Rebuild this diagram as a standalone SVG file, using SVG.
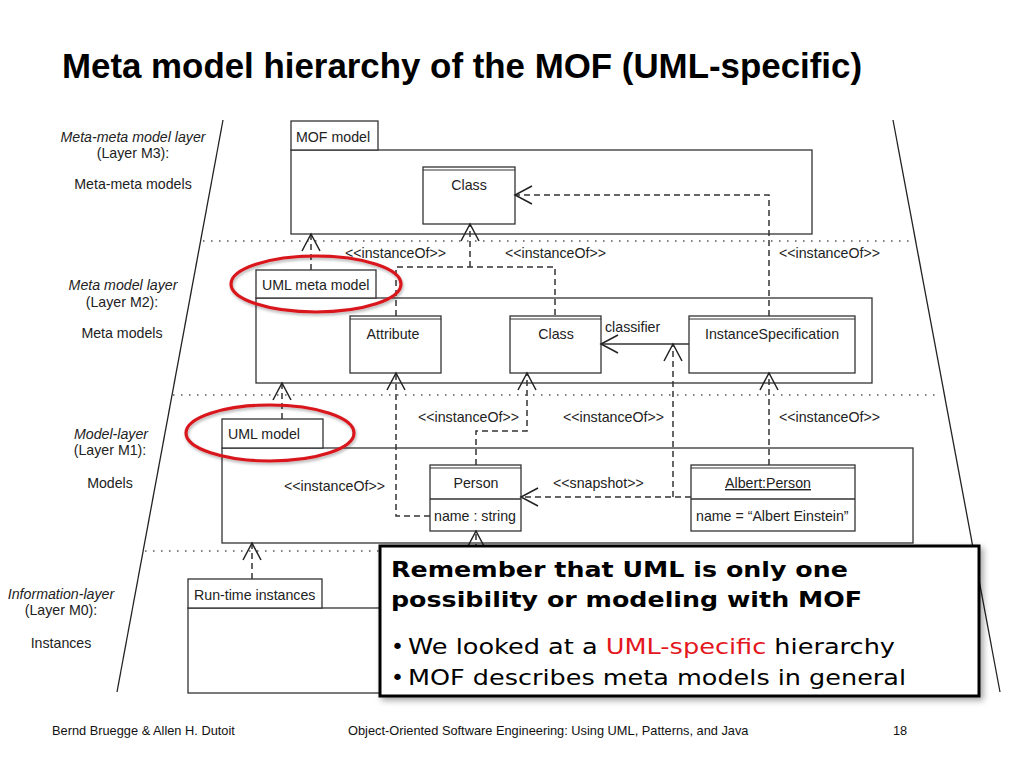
<svg xmlns="http://www.w3.org/2000/svg" width="1024" height="768" viewBox="0 0 1024 768">
<style>
.lbl{font-family:"Liberation Sans",Arial,sans-serif;font-size:14.2px;fill:#222}
.it{font-style:italic}
.mid{text-anchor:middle}
.box{fill:#fff;stroke:#333;stroke-width:1.3}
.thin{fill:none;stroke:#333;stroke-width:1}
.dash{fill:none;stroke:#333;stroke-width:1.5;stroke-dasharray:6 4}
.solid{fill:none;stroke:#333;stroke-width:1.3}
.dot{fill:none;stroke:#555;stroke-width:1.5;stroke-dasharray:1.5 6.5}
.edge{fill:none;stroke:#222;stroke-width:1.3}
.ring{fill:none;stroke:#d8161d;stroke-width:3.2}
.call{font-family:"DejaVu Sans",Tahoma,Verdana,sans-serif;font-size:22px;fill:#000}
.foot{font-family:"Liberation Sans",Arial,sans-serif;font-size:12.8px;fill:#111}
</style>
<defs>
<marker id="open" markerUnits="userSpaceOnUse" markerWidth="24" markerHeight="24" viewBox="-20 -12 24 24" refX="0" refY="0" orient="auto">
<path d="M -17 -9 L 0 0 L -17 9" fill="none" stroke="#222" stroke-width="1.5"/>
</marker>
<filter id="sh" x="-5%" y="-10%" width="115%" height="130%">
<feDropShadow dx="3" dy="3" stdDeviation="3" flood-color="#000" flood-opacity="0.35"/>
</filter>
<filter id="rsh" x="-10%" y="-20%" width="130%" height="150%">
<feDropShadow dx="1" dy="2" stdDeviation="1.5" flood-color="#000" flood-opacity="0.3"/>
</filter>
</defs>
<rect width="1024" height="768" fill="#fff"/>

<text x="62" y="78" font-family="Liberation Sans,Arial,sans-serif" font-weight="bold" font-size="35" textLength="800" lengthAdjust="spacingAndGlyphs" fill="#000">Meta model hierarchy of the MOF (UML-specific)</text>

<g id="frame">
<line class="edge" x1="223" y1="120" x2="117" y2="692"/>
<line class="edge" x1="893" y1="120" x2="1000" y2="692"/>
<line class="dot" x1="203" y1="241" x2="910" y2="241"/>
<line class="dot" x1="173" y1="395" x2="940" y2="395"/>
<line class="dot" x1="145" y1="551" x2="380" y2="551"/>
</g>

<g id="layer-labels">
<text class="lbl it mid" x="133" y="142">Meta-meta model layer</text>
<text class="lbl mid" x="133" y="158">(Layer M3):</text>
<text class="lbl mid" x="133" y="189">Meta-meta models</text>
<text class="lbl it mid" x="123" y="290">Meta model layer</text>
<text class="lbl mid" x="122" y="307">(Layer M2):</text>
<text class="lbl mid" x="122" y="338">Meta models</text>
<text class="lbl it mid" x="111" y="439">Model-layer</text>
<text class="lbl mid" x="110" y="455">(Layer M1):</text>
<text class="lbl mid" x="110" y="488">Models</text>
<text class="lbl it mid" x="61" y="599">Information-layer</text>
<text class="lbl mid" x="61" y="615">(Layer M0):</text>
<text class="lbl mid" x="61" y="648">Instances</text>
</g>

<g id="mof-model">
<rect class="box" x="291" y="150" width="521" height="84"/>
<rect class="box" x="291" y="121" width="87" height="29"/>
<text class="lbl" x="296" y="142">MOF model</text>
</g>
<g id="mof-class">
<rect class="box" x="423" y="167" width="92" height="57"/>
<line class="thin" x1="423" y1="170" x2="515" y2="170"/>
<text class="lbl mid" x="469" y="190">Class</text>
</g>

<g id="uml-meta-model">
<rect class="box" x="256" y="298" width="616" height="85"/>
<rect class="box" x="256" y="270" width="120" height="28"/>
<text class="lbl" x="262" y="290">UML meta model</text>
</g>
<g id="attribute">
<rect class="box" x="350" y="316" width="91" height="57"/>
<line class="thin" x1="350" y1="319" x2="441" y2="319"/>
<text class="lbl mid" x="393" y="339">Attribute</text>
</g>
<g id="m2-class">
<rect class="box" x="510" y="316" width="91" height="57"/>
<line class="thin" x1="510" y1="319" x2="601" y2="319"/>
<text class="lbl mid" x="556" y="339">Class</text>
</g>
<g id="instance-specification">
<rect class="box" x="689" y="316" width="166" height="57"/>
<line class="thin" x1="689" y1="319" x2="855" y2="319"/>
<text class="lbl mid" x="772" y="339">InstanceSpecification</text>
</g>

<g id="uml-model">
<rect class="box" x="222" y="448" width="691" height="95"/>
<rect class="box" x="222" y="419" width="101" height="29"/>
<text class="lbl" x="228" y="439">UML model</text>
</g>
<g id="person">
<rect class="box" x="430" y="465" width="91" height="66"/>
<line class="thin" x1="430" y1="468" x2="521" y2="468"/>
<line class="solid" x1="430" y1="499" x2="521" y2="499"/>
<text class="lbl mid" x="476" y="488">Person</text>
<text class="lbl" x="434" y="521">name : string</text>
</g>
<g id="albert">
<rect class="box" x="691" y="465" width="164" height="66"/>
<line class="thin" x1="691" y1="468" x2="855" y2="468"/>
<line class="solid" x1="691" y1="499" x2="855" y2="499"/>
<text class="lbl mid" x="768" y="488" text-decoration="underline">Albert:Person</text>
<text class="lbl" x="696" y="521">name = “Albert Einstein”</text>
</g>

<g id="run-time-instances">
<rect class="box" x="188" y="608" width="772" height="85"/>
<rect class="box" x="188" y="579" width="134" height="29"/>
<text class="lbl" x="194" y="600">Run-time instances</text>
</g>

<g id="connectors">
<path class="dash" d="M 311 270 L 311 234" marker-end="url(#open)"/>
<path class="dash" d="M 396 316 L 396 267 L 555 267 L 555 316"/>
<path class="dash" d="M 470 267 L 470 224" marker-end="url(#open)"/>
<path class="dash" d="M 769 316 L 769 195 L 515 195" marker-end="url(#open)"/>
<path class="solid" d="M 689 344 L 601 344" marker-end="url(#open)"/>
<path class="dash" d="M 282 419 L 282 383" marker-end="url(#open)"/>
<path class="dash" d="M 430 516 L 396 516 L 396 373" marker-end="url(#open)"/>
<path class="dash" d="M 476 465 L 476 431 L 527 431 L 527 373" marker-end="url(#open)"/>
<path class="dash" d="M 769 465 L 769 373" marker-end="url(#open)"/>
<path class="dash" d="M 691 497 L 521 497" marker-end="url(#open)"/>
<path class="dash" d="M 673 497 L 673 344" marker-end="url(#open)"/>
<path class="dash" d="M 252 579 L 252 543" marker-end="url(#open)"/>
<path class="dash" d="M 476 560 L 476 531" marker-end="url(#open)"/>
</g>

<g id="connector-labels">
<text class="lbl" x="345" y="258">&lt;&lt;instanceOf&gt;&gt;</text>
<text class="lbl" x="505" y="258">&lt;&lt;instanceOf&gt;&gt;</text>
<text class="lbl" x="779" y="258">&lt;&lt;instanceOf&gt;&gt;</text>
<text class="lbl" x="605" y="332">classifier</text>
<text class="lbl" x="418" y="422">&lt;&lt;instanceOf&gt;&gt;</text>
<text class="lbl" x="563" y="422">&lt;&lt;instanceOf&gt;&gt;</text>
<text class="lbl" x="779" y="422">&lt;&lt;instanceOf&gt;&gt;</text>
<text class="lbl" x="284" y="491">&lt;&lt;instanceOf&gt;&gt;</text>
<text class="lbl" x="553" y="488">&lt;&lt;snapshot&gt;&gt;</text>
</g>

<g id="highlights" filter="url(#rsh)">
<ellipse class="ring" cx="316" cy="284" rx="85" ry="28"/>
<ellipse class="ring" cx="270" cy="433" rx="84" ry="28"/>
</g>

<g id="callout">
<rect x="380" y="546" width="599" height="150" fill="#fff" stroke="#000" stroke-width="3" filter="url(#sh)"/>
<text class="call" x="391" y="577" font-weight="bold" textLength="457" lengthAdjust="spacingAndGlyphs">Remember that UML is only one</text>
<text class="call" x="391" y="607" font-weight="bold" textLength="471" lengthAdjust="spacingAndGlyphs">possibility or modeling with MOF</text>
<text class="call" x="391" y="654">•</text>
<text class="call" x="408" y="654" textLength="487" lengthAdjust="spacingAndGlyphs">We looked at a <tspan fill="#e3161d">UML-specific</tspan> hierarchy</text>
<text class="call" x="391" y="685">•</text>
<text class="call" x="408" y="685" textLength="498" lengthAdjust="spacingAndGlyphs">MOF describes meta models in general</text>
</g>

<g id="footer">
<text class="foot" x="52" y="735">Bernd Bruegge &amp; Allen H. Dutoit</text>
<text class="foot" x="348" y="735">Object-Oriented Software Engineering: Using UML, Patterns, and Java</text>
<text class="foot" x="893" y="735">18</text>
</g>
</svg>
